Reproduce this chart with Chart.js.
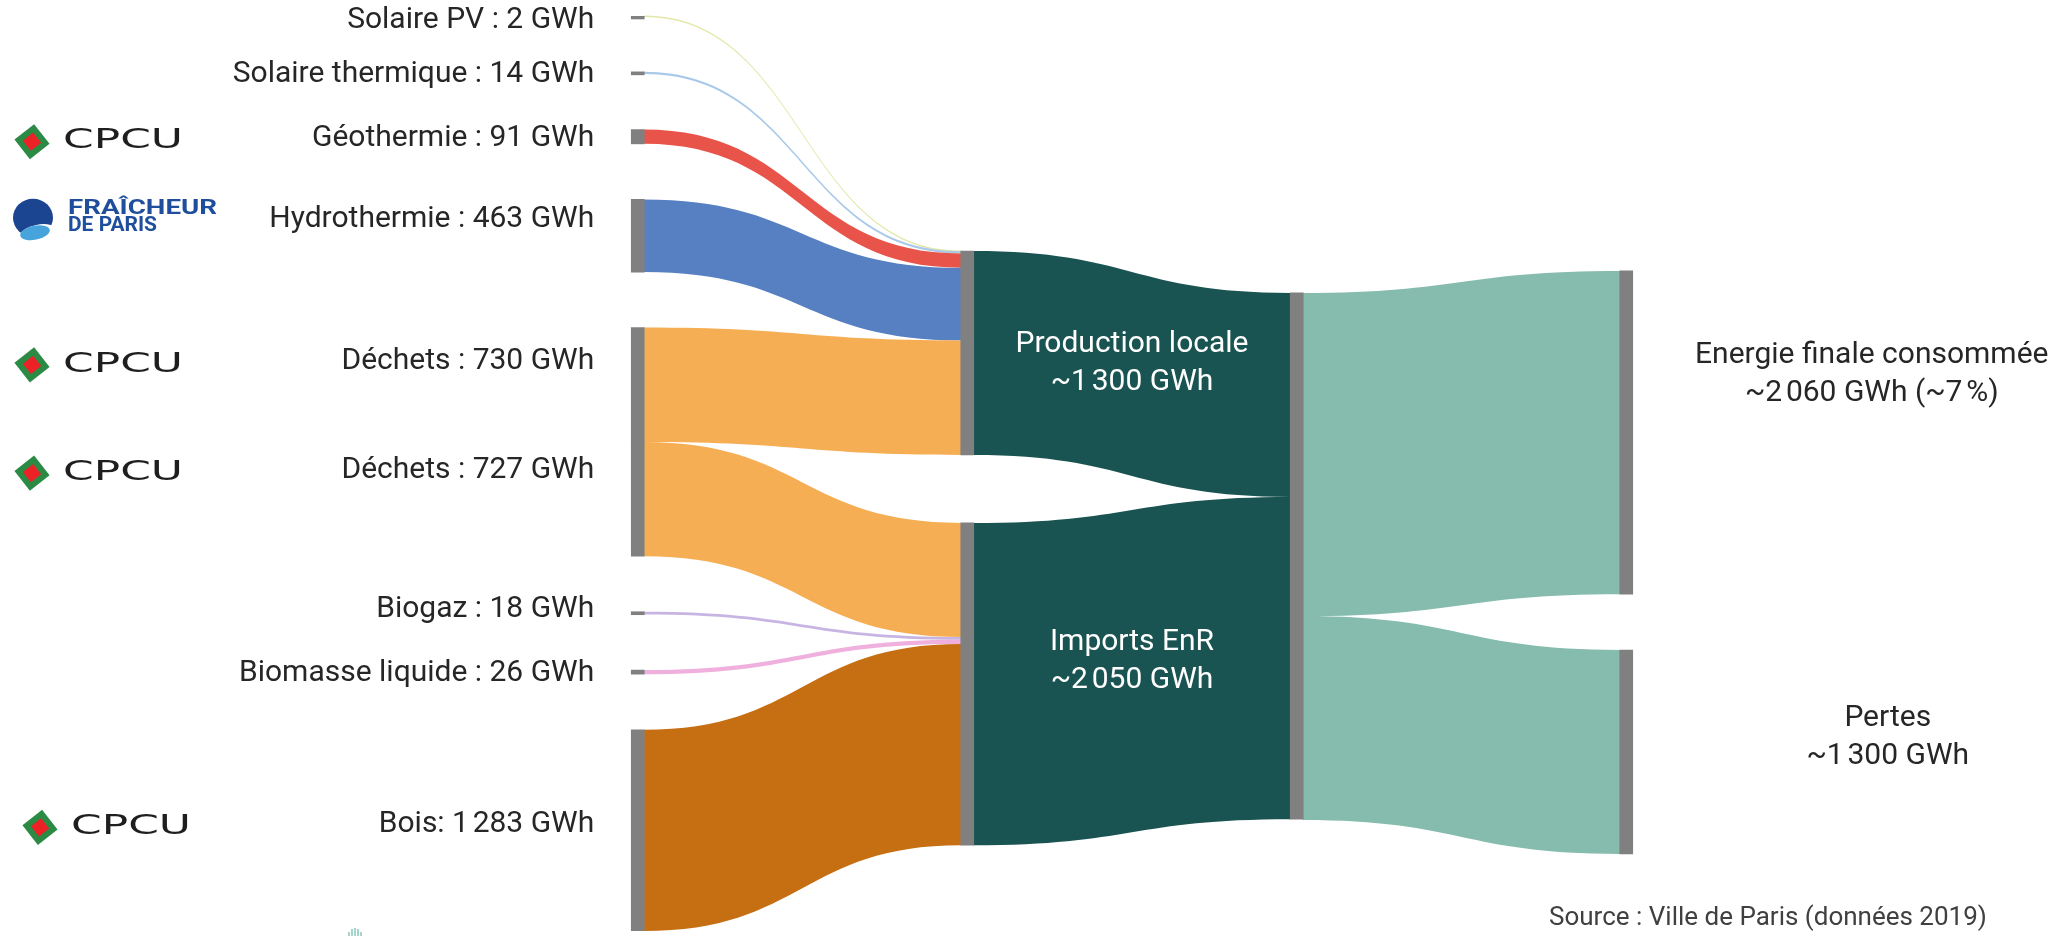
<!DOCTYPE html>
<html lang="fr">
<head>
<meta charset="utf-8">
<title>Énergies renouvelables - réseaux de chaleur et de froid de Paris</title>
<script src="https://cdn.jsdelivr.net/npm/chart.js@4.4.1/dist/chart.umd.min.js"></script>
<style>
  html, body { margin: 0; padding: 0; background: #fff; }
  canvas { display: block; }
</style>
</head>
<body>
<canvas id="myChart" width="2070" height="936"></canvas>
<script>
// ---- data (GWh) ----
const sourceLabels = ['Solaire PV : 2 GWh', 'Solaire thermique : 14 GWh', 'Géothermie : 91 GWh', 'Hydrothermie : 463 GWh',
  'Déchets : 730 GWh', 'Déchets : 727 GWh', 'Biogaz : 18 GWh', 'Biomasse liquide : 26 GWh', 'Bois: 1\u202f283 GWh'];
const sourceValues = [2, 14, 91, 463, 730, 727, 18, 26, 1283];
const sourceTargets = [0, 0, 0, 0, 0, 1, 1, 1, 1]; // 0 = Production locale, 1 = Imports EnR
const sourceLogos = ['', '', 'cpcu', 'fraicheur', 'cpcu', 'cpcu', '', '', 'cpcu'];
const hubNames = ['Production locale', 'Imports EnR'];
const hubTotals = ['~1\u202f300 GWh', '~2\u202f050 GWh'];
const useNames = ['Energie finale consommée', 'Pertes'];
const useTotals = ['~2\u202f060 GWh (~7\u202f%)', '~1\u202f300 GWh'];
const useValues = [2060, 1300];
const sourceNote = 'Source : Ville de Paris (données 2019)';

// ---- layout (vertical positions in GWh along the y scale) ----
const gap = 354;
const hubTop = 1498, hubGap = 433;
const totalTop = 1765;
const useTop = 1625, useGap = 356;
const sharedBar = [false, false, false, false, false, true, false, false, false]; // 2nd Déchets sits right under the 1st
const labelDy = [4, 2, 2, -16, -23, -29, -4, 1, -6];
const logoX = [0, 0, 18, 13, 18, 18, 0, 0, 26];
const hubLabelDy = [10, -23];
const useLabelDy = [-58, -14];
const useLabelDx = [239, 255];

// ---- styles ----
const sourceColors = ['#e3e7a8', '#a9c9e9', '#e9544a', '#5680c1', '#f6ae54', '#f6ae54', '#c8b4e2', '#efb0de', '#c66f12'];
const hubLinkColor = '#1a5452';
const useLinkColor = '#86bcad';
const nodeColor = '#808080';
const textColor = '#262626';
const barW = 13;

// ---- node spans ----
const hubValues = hubNames.map((_, h) =>
  sourceValues.reduce((s, v, i) => s + (sourceTargets[i] === h ? v : 0), 0));
const totalValue = hubValues[0] + hubValues[1];

let cursor = 0;
const sourceSpans = sourceValues.map((v, i) => {
  if (i > 0 && !sharedBar[i]) cursor += gap;
  const span = [cursor, cursor + v];
  cursor += v;
  return span;
});
const yMax = cursor;

const hubSpans = [];
cursor = hubTop;
hubValues.forEach((v, i) => { if (i > 0) cursor += hubGap; hubSpans.push([cursor, cursor + v]); cursor += v; });
const totalSpan = [totalTop, totalTop + totalValue];
const useSpans = [];
cursor = useTop;
useValues.forEach((v, i) => { if (i > 0) cursor += useGap; useSpans.push([cursor, cursor + v]); cursor += v; });

// ---- links ----
const links = [];
const hubIn = [0, 0];
sourceValues.forEach((v, i) => {
  const t = sourceTargets[i];
  links.push({ col: 0, from: sourceSpans[i][0], to: hubSpans[t][0] + hubIn[t], value: v, color: sourceColors[i] });
  hubIn[t] += v;
});
let totalIn = 0;
hubValues.forEach((v, h) => {
  links.push({ col: 1, from: hubSpans[h][0], to: totalSpan[0] + totalIn, value: v, color: hubLinkColor });
  totalIn += v;
});
let totalOut = 0;
useValues.forEach((v, u) => {
  links.push({ col: 2, from: totalSpan[0] + totalOut, to: useSpans[u][0], value: v, color: useLinkColor });
  totalOut += v;
});

// ---- node bars as floating bars ----
const datasets = [];
function addNode(col, span) {
  const data = [null, null, null, null];
  data[col] = span;
  datasets.push({ data, backgroundColor: nodeColor, grouped: false, barThickness: barW, minBarLength: 3, borderWidth: 0 });
}
sourceSpans.forEach(s => addNode(0, s));
hubSpans.forEach(s => addNode(1, s));
addNode(2, totalSpan);
useSpans.forEach(s => addNode(3, s));

// ---- logos ----
function drawCpcu(ctx, x, y) {
  ctx.save();
  ctx.translate(x + 14, y + 3);
  ctx.rotate(Math.PI / 4 + 0.12);
  ctx.fillStyle = '#2b8a43';
  ctx.fillRect(-12.5, -12.5, 25, 25);
  ctx.fillStyle = '#ec2227';
  ctx.fillRect(-6.5, -6.5, 13, 13);
  ctx.restore();

  ctx.save();
  ctx.font = '26px "DejaVu Sans"';
  const w = ctx.measureText('CPCU').width;
  ctx.translate(x + 45, y + 3);
  ctx.scale(120 / w, 1);
  ctx.fillStyle = '#1e1e1e';
  ctx.textAlign = 'left';
  ctx.textBaseline = 'middle';
  ctx.fillText('CPCU', 0, 0);
  ctx.restore();
}

function drawFraicheur(ctx, x, y) {
  ctx.save();
  ctx.fillStyle = '#1b4591';
  ctx.beginPath();
  ctx.ellipse(x + 20, y - 2, 20, 19, 0, 0, Math.PI * 2);
  ctx.fill();
  ctx.fillStyle = '#fff';
  ctx.beginPath();
  ctx.ellipse(x + 25, y + 14, 19, 9, -0.2, 0, Math.PI * 2);
  ctx.fill();
  ctx.fillStyle = '#47a3dc';
  ctx.beginPath();
  ctx.ellipse(x + 22, y + 13, 15, 7, -0.2, 0, Math.PI * 2);
  ctx.fill();

  ctx.fillStyle = '#1f4e9c';
  ctx.font = 'bold 20px Roboto';
  ctx.textAlign = 'left';
  ctx.textBaseline = 'alphabetic';
  [['FRAÎCHEUR', -6, 149], ['DE PARIS', 11, 89]].forEach(([t, dy, tw]) => {
    const w = ctx.measureText(t).width;
    ctx.save();
    ctx.translate(x + 55, y + dy);
    ctx.scale(tw / w, 1);
    ctx.fillText(t, 0, 0);
    ctx.restore();
  });
  ctx.restore();
}

// ---- plugin: links under the bars, labels on top ----
const sankeyPlugin = {
  id: 'sankey',
  beforeDatasetsDraw(chart) {
    const { ctx, scales: { x, y } } = chart;
    const k = Math.abs(y.getPixelForValue(1) - y.getPixelForValue(0));
    ctx.save();
    links.forEach(l => {
      const x0 = x.getPixelForValue(l.col) + barW / 2 - 0.5;
      const x1 = x.getPixelForValue(l.col + 1) - barW / 2 + 0.5;
      const xm = (x0 + x1) / 2;
      const t = Math.max(l.value * k, 1.5);
      const c0 = y.getPixelForValue(l.from + l.value / 2);
      const c1 = y.getPixelForValue(l.to + l.value / 2);
      const s0 = c0 - t / 2, s1 = c0 + t / 2, e0 = c1 - t / 2, e1 = c1 + t / 2;
      ctx.beginPath();
      ctx.moveTo(x0, s0);
      ctx.bezierCurveTo(xm, s0, xm, e0, x1, e0);
      ctx.lineTo(x1, e1);
      ctx.bezierCurveTo(xm, e1, xm, s1, x0, s1);
      ctx.closePath();
      ctx.fillStyle = l.color;
      ctx.fill();
    });
    ctx.restore();
  },
  afterDraw(chart) {
    const { ctx, scales: { x, y } } = chart;
    ctx.save();

    // source labels + logos
    const left = x.getPixelForValue(0) - barW / 2 - 37;
    sourceLabels.forEach((lab, i) => {
      const cy = y.getPixelForValue((sourceSpans[i][0] + sourceSpans[i][1]) / 2) + labelDy[i];
      ctx.font = '30px Roboto';
      ctx.textBaseline = 'middle';
      ctx.fillStyle = textColor;
      ctx.textAlign = 'right';
      ctx.fillText(lab, left, cy);
      if (sourceLogos[i] === 'cpcu') drawCpcu(ctx, logoX[i], cy);
      if (sourceLogos[i] === 'fraicheur') drawFraicheur(ctx, logoX[i], cy);
    });

    ctx.font = '30px Roboto';
    ctx.textBaseline = 'middle';

    // hub labels, white, on the dark links
    const hx = (x.getPixelForValue(1) + x.getPixelForValue(2)) / 2;
    ctx.fillStyle = '#ffffff';
    ctx.textAlign = 'center';
    hubNames.forEach((n, h) => {
      const cy = y.getPixelForValue((hubSpans[h][0] + hubSpans[h][1]) / 2) + hubLabelDy[h];
      ctx.fillText(n, hx, cy - 19);
      ctx.fillText(hubTotals[h], hx, cy + 19);
    });

    // final uses
    ctx.fillStyle = textColor;
    useNames.forEach((n, u) => {
      const ux = x.getPixelForValue(3) + barW / 2 + useLabelDx[u];
      const cy = y.getPixelForValue((useSpans[u][0] + useSpans[u][1]) / 2) + useLabelDy[u];
      ctx.fillText(n, ux, cy - 19);
      ctx.fillText(useTotals[u], ux, cy + 19);
    });

    // source note
    ctx.font = '26px Roboto';
    ctx.fillStyle = '#404040';
    ctx.textAlign = 'left';
    ctx.fillText(sourceNote, 1549, 918);

    // cut-off icon at the bottom edge
    ctx.strokeStyle = '#8cc6b8';
    ctx.lineWidth = 1.5;
    [[349, 932], [352, 929], [355, 928], [358, 929], [361, 932]].forEach(([px, py]) => {
      ctx.beginPath();
      ctx.moveTo(px, py);
      ctx.lineTo(px, 936);
      ctx.stroke();
    });
    ctx.restore();
  }
};

const myChart = document.getElementById('myChart');
new Chart(myChart, {
  type: 'bar',
  data: { labels: ['sources', 'hubs', 'total', 'usages'], datasets },
  options: {
    responsive: false,
    animation: false,
    events: [],
    layout: { padding: { left: 473, right: 279, top: 16, bottom: 5 } },
    scales: {
      x: { display: false, offset: true },
      y: { display: false, reverse: true, min: 0, max: yMax }
    },
    plugins: { legend: { display: false }, tooltip: { enabled: false } }
  },
  plugins: [sankeyPlugin]
});
</script>
</body>
</html>
